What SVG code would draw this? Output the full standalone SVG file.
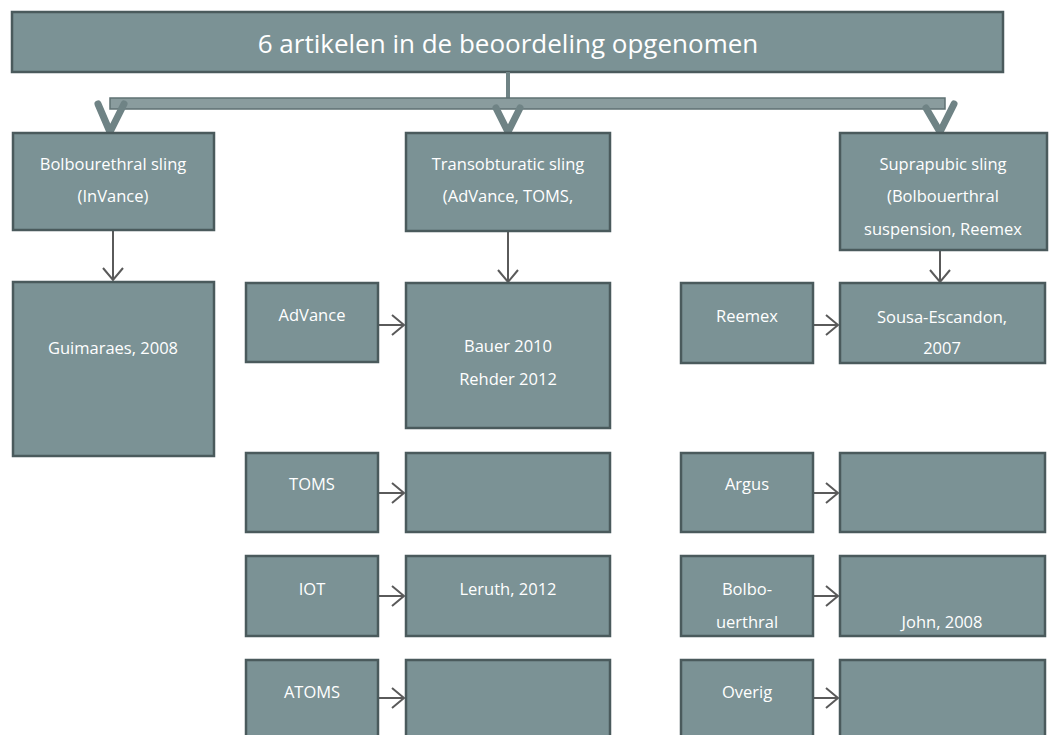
<svg xmlns="http://www.w3.org/2000/svg" width="1049" height="735" viewBox="0 0 1049 735">
<style>
.box{fill:#7b9295;stroke:#4a5a5c;stroke-width:2.5}
.t{fill:#ffffff;font-family:"Open Sans","Liberation Sans",sans-serif;font-size:16.5px;text-anchor:middle}
.title{fill:#ffffff;font-family:"Open Sans","Liberation Sans",sans-serif;font-size:26px;text-anchor:middle}
.c{stroke:#5a5a5a;stroke-width:2;fill:none}
.big{stroke:#6f8385;stroke-width:7;fill:none;stroke-linecap:round;stroke-linejoin:round}
</style>
<rect width="1049" height="735" fill="#ffffff"/>
<g id="title"><rect class="box" x="12" y="12" width="991" height="60"/><text class="title" x="508" y="53">6 artikelen in de beoordeling opgenomen</text></g>
<g id="connectors">
<line x1="508" y1="72" x2="508" y2="100" stroke="#6f8385" stroke-width="4"/>
<rect x="110" y="98" width="835" height="11" fill="#8a9c9e" stroke="#5f7173" stroke-width="1.5"/>
<path class="big" d="M98,104 L110,132 L124,104"/>
<path class="big" d="M496,108 L508,132 L520,108"/>
<path class="big" d="M926,108 L940,132 L954,104"/>
<line class="c" x1="113" y1="231" x2="113" y2="279"/><path class="c" d="M103,268 L113,280 L123,268"/>
<line class="c" x1="508" y1="232" x2="508" y2="281"/><path class="c" d="M498,270 L508,282 L518,270"/>
<line class="c" x1="940" y1="251" x2="940" y2="281"/><path class="c" d="M930,270 L940,282 L950,270"/>
<line class="c" x1="379" y1="325" x2="404" y2="325"/><path class="c" d="M392,315 L404,325 L392,335"/>
<line class="c" x1="379" y1="493" x2="404" y2="493"/><path class="c" d="M392,483 L404,493 L392,503"/>
<line class="c" x1="379" y1="596" x2="404" y2="596"/><path class="c" d="M392,586 L404,596 L392,606"/>
<line class="c" x1="379" y1="698" x2="404" y2="698"/><path class="c" d="M392,688 L404,698 L392,708"/>
<line class="c" x1="814" y1="325" x2="838" y2="325"/><path class="c" d="M826,315 L838,325 L826,335"/>
<line class="c" x1="814" y1="493" x2="838" y2="493"/><path class="c" d="M826,483 L838,493 L826,503"/>
<line class="c" x1="814" y1="596" x2="838" y2="596"/><path class="c" d="M826,586 L838,596 L826,606"/>
<line class="c" x1="814" y1="698" x2="838" y2="698"/><path class="c" d="M826,688 L838,698 L826,708"/>
</g>
<g id="bolbourethral"><rect class="box" x="13" y="133" width="201" height="97"/><text class="t" x="113" y="170">Bolbourethral sling</text><text class="t" x="113" y="202">(InVance)</text></g>
<g id="guimaraes"><rect class="box" x="13" y="282" width="201" height="174"/><text class="t" x="113" y="354">Guimaraes, 2008</text></g>
<g id="transobturatic"><rect class="box" x="406" y="133" width="204" height="98"/><text class="t" x="508" y="170">Transobturatic sling</text><text class="t" x="508" y="202">(AdVance, TOMS,</text></g>
<g id="bauer"><rect class="box" x="406" y="283" width="204" height="145"/><text class="t" x="508" y="352">Bauer 2010</text><text class="t" x="508" y="385">Rehder 2012</text></g>
<g id="advance"><rect class="box" x="246" y="283" width="132" height="79"/><text class="t" x="312" y="321">AdVance</text></g>
<g id="toms"><rect class="box" x="246" y="453" width="132" height="79"/><text class="t" x="312" y="490">TOMS</text></g>
<g id="toms-res"><rect class="box" x="406" y="453" width="204" height="79"/></g>
<g id="iot"><rect class="box" x="246" y="556" width="132" height="80"/><text class="t" x="312" y="595">IOT</text></g>
<g id="leruth"><rect class="box" x="406" y="556" width="204" height="80"/><text class="t" x="508" y="595">Leruth, 2012</text></g>
<g id="atoms"><rect class="box" x="246" y="660" width="132" height="80"/><text class="t" x="312" y="698">ATOMS</text></g>
<g id="atoms-res"><rect class="box" x="406" y="660" width="204" height="80"/></g>
<g id="suprapubic"><rect class="box" x="840" y="133" width="207" height="117"/><text class="t" x="943" y="170">Suprapubic sling</text><text class="t" x="943" y="202">(Bolbouerthral</text><text class="t" x="943" y="235">suspension, Reemex</text></g>
<g id="reemex"><rect class="box" x="681" y="283" width="132" height="80"/><text class="t" x="747" y="322">Reemex</text></g>
<g id="sousa"><rect class="box" x="840" y="283" width="205" height="80"/><text class="t" x="942" y="323">Sousa-Escandon,</text><text class="t" x="942" y="354">2007</text></g>
<g id="argus"><rect class="box" x="681" y="453" width="132" height="79"/><text class="t" x="747" y="490">Argus</text></g>
<g id="argus-res"><rect class="box" x="840" y="453" width="205" height="79"/></g>
<g id="bolbo"><rect class="box" x="681" y="556" width="132" height="80"/><text class="t" x="747" y="595">Bolbo-</text><text class="t" x="747" y="628">uerthral</text></g>
<g id="john"><rect class="box" x="840" y="556" width="205" height="80"/><text class="t" x="942" y="628">John, 2008</text></g>
<g id="overig"><rect class="box" x="681" y="660" width="132" height="80"/><text class="t" x="747" y="698">Overig</text></g>
<g id="overig-res"><rect class="box" x="840" y="660" width="205" height="80"/></g>
</svg>
